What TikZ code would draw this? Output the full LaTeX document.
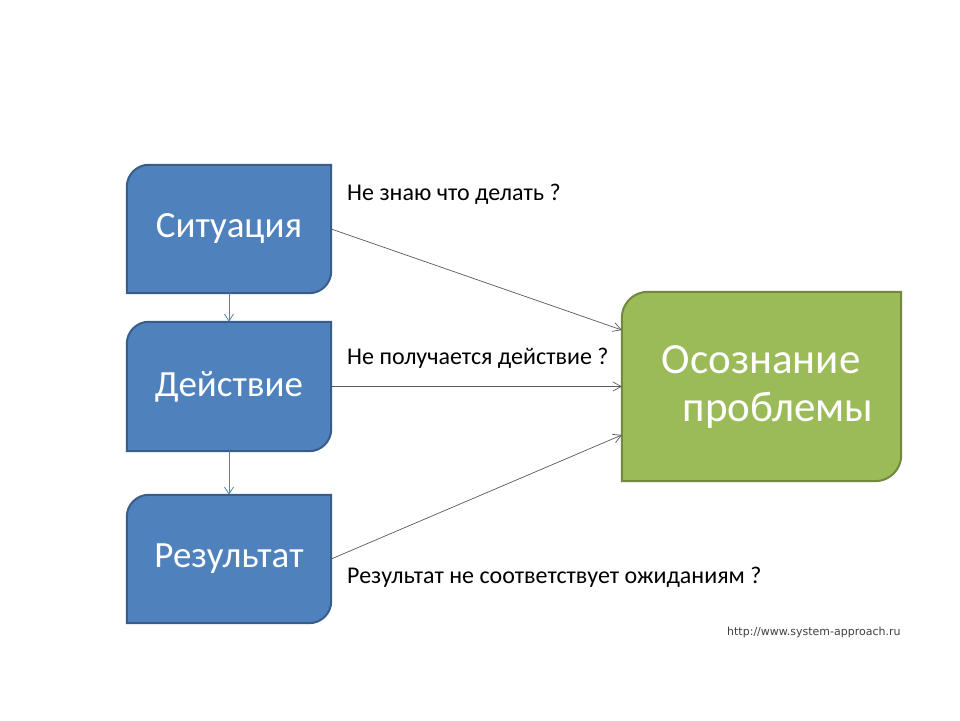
\documentclass[tikz,border=0pt]{standalone}
\usepackage{fontspec}
\setmainfont{Carlito}
\newfontfamily\urlfont{DejaVu Sans}
\usetikzlibrary{arrows.meta,backgrounds}
\definecolor{bluefill}{HTML}{4F81BD}
\definecolor{blueline}{HTML}{385D8A}
\definecolor{greenfill}{HTML}{9BBB59}
\definecolor{greenline}{HTML}{71893F}
\definecolor{conngray}{HTML}{595959}
\newcommand\diagshape[3]{%
  \draw[#2] (#1.south west) -- ([yshift=-#3]#1.north west) arc[start angle=180,end angle=90,radius=#3]
    -- (#1.north east) -- ([yshift=#3]#1.south east) arc[start angle=0,end angle=-90,radius=#3] -- cycle;}
\tikzset{
  bluebox/.style={minimum width=204pt,minimum height=128pt,inner sep=0pt,text=white,font=\fontsize{37}{42}\selectfont},
  greenbox/.style={minimum width=279pt,minimum height=189pt,inner sep=0pt},
  bluefillstyle/.style={fill=bluefill,draw=blueline,line width=2pt},
  greenfillstyle/.style={fill=greenfill,draw=greenline,line width=2pt},
  conn/.style={draw=conngray,line width=0.7pt,-{Straight Barb[length=8pt,width=9pt,line width=0.7pt]}},
  vconn/.style={draw=bluefill,line width=0.8pt,-{Straight Barb[length=7pt,width=9pt,line width=0.8pt]}},
  lbl/.style={anchor=west,inner sep=0pt,font=\fontsize{24}{28}\selectfont},
}
\begin{document}
\begin{tikzpicture}[x=1pt,y=1pt]
\useasboundingbox (0,0) rectangle (960,720);
\node[bluebox] (s) at (229,491) {Ситуация};
\node[bluebox,minimum height=129pt] (d) at (229,333.5) {Действие};
\node[bluebox] (r) at (229,161) {Результат};
\node[greenbox] (o) at (761.5,333.5) {};
\node[text=white,align=left,inner sep=0pt,font=\fontsize{43}{48}\selectfont] (ot) at (767.5,333) {Осознание\\\hspace*{21pt}проблемы};
\begin{scope}[on background layer]
  \fill[white] (0,0) rectangle (960,720);
  \diagshape{s}{bluefillstyle}{22pt}
  \diagshape{d}{bluefillstyle}{22pt}
  \diagshape{r}{bluefillstyle}{22pt}
  \diagshape{o}{greenfillstyle}{26pt}
\end{scope}
\draw[conn] (s.east) -- ([yshift=56.5pt]o.west);
\draw[conn] (d.east) -- (o.west);
\draw[conn] (r.east) -- ([yshift=-48.5pt]o.west);
\draw[vconn] (s.south) -- (d.north);
\draw[vconn] (d.south) -- (r.north);
\node[lbl] (l1) at (347,526) {Не знаю что делать ?};
\node[lbl] (l2) at (347,362) {Не получается действие ?};
\node[lbl] (l3) at (347,143) {Результат не соответствует ожиданиям ?};
\node[anchor=west,inner sep=0pt,text=black!75,font=\urlfont\fontsize{11}{13}\selectfont] (url) at (727,88) {http://www.system-approach.ru};
\end{tikzpicture}
\end{document}
